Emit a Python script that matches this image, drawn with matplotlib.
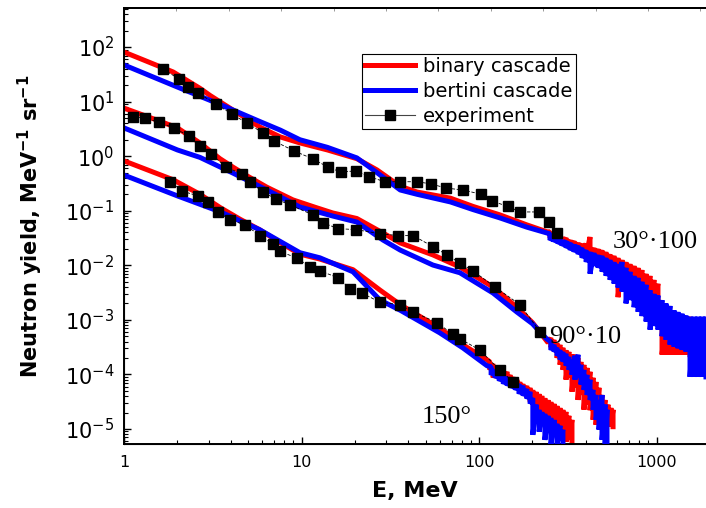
import matplotlib
matplotlib.use("Agg")
import matplotlib.pyplot as plt
from matplotlib.lines import Line2D
from matplotlib.ticker import FuncFormatter, FixedLocator, NullFormatter, LogLocator

plt.rcParams["font.family"] = ["DejaVu Sans"]
plt.rcParams["mathtext.fontset"] = "dejavusans"

# Smooth part of the spectra (E in MeV, yield in MeV^-1 sr^-1), then the noisy
# high-energy tails given as upper / lower envelope of the histogram scatter.

# ---- 30 deg (x100) ----
e_bin30 = [1, 1.89, 2.68, 3.05, 4.11, 5.84, 7.6, 9.8, 14, 20.5, 26.6, 36, 44.8, 69, 92.5, 131, 186, 242]
y_bin30 = [81, 35, 17.5, 13, 7.0, 3.4, 2.25, 1.75, 1.3, 0.9, 0.56, 0.28, 0.22, 0.17, 0.12, 0.084, 0.055, 0.041]
e_bin30_tail = [251, 265, 279, 293, 309, 326, 343, 361, 380, 401, 422, 444, 468, 493, 519, 547, 576, 607,
                639, 673, 709, 747, 787, 828, 873, 919, 968, 1019, 1074, 1131, 1191, 1255, 1321, 1392,
                1466, 1544]
hi_bin30_tail = [0.041, 0.038, 0.0345, 0.033, 0.032, 0.029, 0.028, 0.026, 0.025, 0.025, 0.033, 0.021,
                 0.020, 0.019, 0.0176, 0.016, 0.015, 0.0137, 0.0126, 0.0115, 0.0106, 0.0098, 0.009,
                 0.0082, 0.007, 0.0064, 0.0054, 0.0046, 0.00114, 0.00114, 0.00114, 0.00114, 0.00114,
                 0.00114, 0.00114, 0.00114]
lo_bin30_tail = [0.032, 0.029, 0.027, 0.025, 0.023, 0.021, 0.019, 0.0176, 0.016, 0.015, 0.0137, 0.0126,
                 0.0115, 0.0098, 0.009, 0.0076, 0.0064, 0.0026, 0.0054, 0.0046, 0.0035, 0.0030, 0.0033,
                 0.0025, 0.0023, 0.0019, 0.0020, 0.0014, 0.00023, 0.00023, 0.00023, 0.00023, 0.00023,
                 0.00023, 0.00023, 0.00023]

e_ber30 = [1, 2, 3.5, 5.84, 7.6, 9.8, 14, 20.5, 26.6, 36, 44.8, 69, 92.5, 131, 186, 242]
y_ber30 = [47, 18.5, 8.8, 4.3, 3.0, 2.0, 1.45, 0.93, 0.5, 0.24, 0.2, 0.145, 0.105, 0.074, 0.05, 0.039]
e_ber30_tail = [251, 265, 279, 293, 309, 326, 343, 361, 380, 401, 422, 444, 468, 493, 519, 547, 576, 607,
                639, 673, 709, 747, 787, 828, 873, 919, 968, 1019, 1074, 1131, 1191, 1255, 1321, 1392,
                1466, 1544, 1626, 1713, 1804, 1900]
hi_ber30_tail = [0.0376, 0.0345, 0.032, 0.029, 0.028, 0.026, 0.024, 0.023, 0.021, 0.019, 0.0176, 0.017,
                 0.0155, 0.015, 0.0137, 0.0126, 0.0115, 0.0106, 0.0115, 0.009, 0.0076, 0.0064, 0.0059,
                 0.005, 0.0044, 0.0035, 0.003, 0.0028, 0.0023, 0.002, 0.0018, 0.0015, 0.0014, 0.0013,
                 0.0012, 0.00114, 0.00114, 0.00114, 0.00114, 0.00114]
lo_ber30_tail = [0.029, 0.027, 0.025, 0.023, 0.021, 0.019, 0.0176, 0.016, 0.0137, 0.0115, 0.007, 0.0098,
                 0.009, 0.0076, 0.0064, 0.0054, 0.0046, 0.0039, 0.0033, 0.002, 0.0023, 0.0017, 0.0014,
                 0.00117, 0.00093, 0.00066, 0.00077, 0.00066, 0.0005, 0.00043, 0.00035, 0.00032,
                 0.0003, 0.00028, 0.00026, 0.00009, 0.00009, 0.00009, 0.00009, 0.00009]

e_exp30 = [1.66, 2.04, 2.29, 2.61, 3.30, 4.06, 4.93, 6.07, 7.0, 9.07, 11.6, 14.1, 16.7, 20.3, 24.0,
           29.5, 35.9, 44.8, 53.7, 65.2, 81.3, 103, 118, 146, 170, 218, 248, 275]
y_exp30 = [39.5, 26, 18.5, 14.4, 9.0, 5.9, 4.06, 2.66, 1.90, 1.25, 0.89, 0.63, 0.51, 0.54, 0.42,
           0.34, 0.34, 0.34, 0.31, 0.26, 0.24, 0.20, 0.15, 0.12, 0.095, 0.095, 0.062, 0.039]

# ---- 90 deg (x10) ----
e_bin90 = [1, 1.5, 2.0, 2.68, 3.47, 4.11, 5.0, 6.38, 8.95, 12, 15, 20.5, 28.8, 36, 55, 78, 120, 163, 200, 245]
y_bin90 = [7.6, 4.7, 3.3, 1.74, 0.9, 0.63, 0.425, 0.27, 0.158, 0.115, 0.091, 0.072, 0.039, 0.0257, 0.0155,
           0.0093, 0.004, 0.0017, 0.00089, 0.00038]
e_bin90_tail = [254, 265, 275, 286, 297, 309, 321, 334, 347, 361, 375, 390, 406, 422, 439, 456, 474, 493,
                513, 533, 554, 569]
hi_bin90_tail = [0.00047, 0.00043, 0.00038, 0.00035, 0.00031, 0.00028, 0.00026, 0.00023, 0.00023, 0.0002,
                 0.00017, 0.00015, 0.000132, 0.000112, 8.7e-5, 7.3e-5, 5.7e-5, 4.2e-5, 3.4e-5, 2.8e-5,
                 2.44e-5, 2.25e-5]
lo_bin90_tail = [0.00031, 0.00026, 0.0002, 0.00015, 0.000121, 8.0e-5, 8.7e-5, 4.8e-5, 5.7e-5, 3.4e-5,
                 4.2e-5, 2.25e-5, 2.8e-5, 2.2e-5, 1.47e-5, 1.19e-5, 1.6e-5, 1.35e-5, 1.1e-5, 1.1e-5,
                 1.19e-5, 1.1e-5]

e_ber90 = [1, 2, 2.68, 4.11, 6.38, 9.8, 15, 20.5, 28.8, 36, 55, 78, 120, 163, 200, 240]
y_ber90 = [3.3, 1.3, 0.95, 0.49, 0.24, 0.117, 0.08, 0.062, 0.029, 0.019, 0.0101, 0.0073, 0.0031, 0.0014,
           0.00085, 0.00045]
e_ber90_tail = [254, 265, 275, 286, 297, 309, 321, 334, 347, 361, 375, 390, 406, 422, 439, 456, 474, 493,
                513, 526]
hi_ber90_tail = [0.000395, 0.00035, 0.00031, 0.00028, 0.00026, 0.00024, 0.00021, 0.000185, 0.00022,
                 0.00023, 0.00015, 0.000121, 9.8e-5, 8.0e-5, 5.2e-5, 4.2e-5, 3.4e-5, 4.2e-5, 2.8e-5, 2.25e-5]
lo_ber90_tail = [0.00028, 0.00026, 0.00022, 0.000185, 0.00017, 0.000144, 0.000121, 9.8e-5, 8.0e-5, 8.7e-5,
                 6.5e-5, 5.2e-5, 4.2e-5, 3.4e-5, 2.25e-5, 1.47e-5, 9.7e-6, 6.3e-6, 4.7e-6, 4.3e-6]

e_exp90 = [1.12, 1.31, 1.57, 1.91, 2.32, 2.68, 3.09, 3.76, 4.62, 5.13, 6.07, 7.2, 8.6, 11.6, 13.2, 16.1,
           20.3, 27.7, 35, 42.5, 55, 66, 78, 92.5, 123, 170, 221]
y_exp90 = [5.2, 5.0, 4.2, 3.3, 2.34, 1.54, 1.10, 0.63, 0.47, 0.34, 0.22, 0.164, 0.128, 0.084, 0.060, 0.047,
           0.045, 0.038, 0.035, 0.035, 0.022, 0.0155, 0.011, 0.0079, 0.0040, 0.0019, 0.0006]

# ---- 150 deg ----
e_bin150 = [1, 1.89, 2.68, 3.47, 4.5, 5.8, 7.6, 9.8, 12.7, 19.5, 27.7, 36, 60, 81, 111]
y_bin150 = [0.82, 0.37, 0.2, 0.115, 0.07, 0.045, 0.026, 0.016, 0.013, 0.0083, 0.0035, 0.0019, 0.0007,
            0.00035, 1.85e-4]
e_bin150_tail = [115, 120, 126, 131, 137, 144, 150, 156, 164, 170, 177, 186, 194, 201, 210, 218, 226, 235,
                 245, 254, 265, 275, 286, 297, 309, 321, 334]
hi_bin150_tail = [1.70e-4, 1.56e-4, 1.44e-4, 1.32e-4, 1.21e-4, 1.12e-4, 9.8e-5, 9.0e-5, 8.0e-5, 7.3e-5,
                  6.7e-5, 6.2e-5, 5.7e-5, 5.2e-5, 4.8e-5, 4.4e-5, 4.06e-5, 3.7e-5, 3.4e-5, 3.15e-5,
                  2.9e-5, 2.66e-5, 2.44e-5, 2.25e-5, 2.06e-5, 1.75e-5, 1.47e-5]
lo_bin150_tail = [1.21e-4, 8.7e-5, 1.03e-4, 9.4e-5, 8.0e-5, 7.3e-5, 6.2e-5, 5.7e-5, 5.2e-5, 4.8e-5,
                  4.2e-5, 3.7e-5, 3.15e-5, 2.8e-5, 2.25e-5, 2.06e-5, 1.6e-5, 1.47e-5, 1.15e-5, 1.25e-5,
                  9.7e-6, 1.05e-5, 8.2e-6, 8.9e-6, 5.8e-6, 6.3e-6, 4.9e-6]

e_ber150 = [1, 2, 3.47, 5.8, 9.8, 12.7, 19.5, 27.7, 36, 60, 81, 111]
y_ber150 = [0.45, 0.187, 0.096, 0.045, 0.017, 0.0137, 0.0076, 0.0023, 0.0015, 5.8e-4, 3.07e-4, 1.44e-4]
e_ber150_tail = [117, 123, 130, 137, 144, 151, 160, 168, 177, 186, 194, 201, 210, 218, 226, 235, 245, 254,
                 265, 275, 286, 297]
hi_ber150_tail = [1.38e-4, 1.21e-4, 1.07e-4, 9.8e-5, 9.0e-5, 8.3e-5, 7.6e-5, 6.7e-5, 6.2e-5, 5.4e-5,
                  4.8e-5, 3.7e-5, 2.8e-5, 2.25e-5, 2.06e-5, 1.9e-5, 1.75e-5, 1.6e-5, 1.47e-5, 1.25e-5,
                  1.15e-5, 9.7e-6]
lo_ber150_tail = [9.8e-5, 8.7e-5, 7.6e-5, 6.7e-5, 6.2e-5, 5.7e-5, 5.2e-5, 4.4e-5, 4.06e-5, 3.57e-5,
                  2.9e-5, 7.8e-6, 1.47e-5, 8.9e-6, 1.19e-5, 6.3e-6, 9.7e-6, 4.9e-6, 8.2e-6, 4.9e-6,
                  6.3e-6, 4.2e-6]

e_exp150 = [1.82, 2.12, 2.61, 2.97, 3.39, 3.96, 4.81, 5.84, 6.9, 7.56, 9.4, 11.2, 12.7, 16.1, 18.8, 21.9,
            27.7, 35.9, 42.5, 58, 71.4, 78, 101, 131, 156]
y_exp150 = [0.34, 0.23, 0.187, 0.145, 0.095, 0.068, 0.055, 0.035, 0.025, 0.018, 0.0136, 0.0093, 0.0079,
            0.0059, 0.0037, 0.0031, 0.0021, 0.0019, 0.0014, 0.00089, 0.00054, 0.00045, 0.00028, 0.00012,
            7.3e-5]

labels = ["30°·100", "90°·10", "150°"]
label_pos = [(569, 0.021), (248, 3.8e-4), (47.7, 1.3e-5)]

x_ticks = [1, 10, 100, 1000]
y_ticks = [1e-5, 1e-4, 1e-3, 1e-2, 1e-1, 1, 10, 100]

RED = "#ff0000"
BLUE = "#0000ff"
LW = 3.6


def with_tail(e, y, e_tail, hi, lo):
    # the scatter of the histogram tail is drawn as a zig-zag between its envelopes
    xs = list(e)
    ys = list(y)
    for et, h, l in zip(e_tail, hi, lo):
        xs += [et, et]
        ys += [h, l]
    return xs, ys


fig = plt.figure(figsize=(7.06, 5.08), dpi=100)
ax = fig.add_axes([124 / 706, 64 / 508, 582 / 706, 436 / 508])

binary = [(e_bin30, y_bin30, e_bin30_tail, hi_bin30_tail, lo_bin30_tail),
          (e_bin90, y_bin90, e_bin90_tail, hi_bin90_tail, lo_bin90_tail),
          (e_bin150, y_bin150, e_bin150_tail, hi_bin150_tail, lo_bin150_tail)]
bertini = [(e_ber30, y_ber30, e_ber30_tail, hi_ber30_tail, lo_ber30_tail),
           (e_ber90, y_ber90, e_ber90_tail, hi_ber90_tail, lo_ber90_tail),
           (e_ber150, y_ber150, e_ber150_tail, hi_ber150_tail, lo_ber150_tail)]

for args in binary:
    xs, ys = with_tail(*args)
    ax.plot(xs, ys, color=RED, lw=LW, solid_joinstyle="bevel", zorder=2)
for args in bertini:
    xs, ys = with_tail(*args)
    ax.plot(xs, ys, color=BLUE, lw=LW, solid_joinstyle="bevel", zorder=3)
for e, y in [(e_exp30, y_exp30), (e_exp90, y_exp90), (e_exp150, y_exp150)]:
    ax.plot(e, y, color="black", lw=0.6, ls=(0, (4, 2)), marker="s", ms=7.5,
            mfc="black", mec="black", zorder=4)

for txt, (x, y) in zip(labels, label_pos):
    ax.text(x, y, txt, fontsize=19, family="Liberation Serif", ha="left", va="baseline", zorder=5)

ax.set_xscale("log")
ax.set_yscale("log")
ax.set_xlim(1, 1900)
ax.set_ylim(5.3e-6, 520)
ax.xaxis.set_major_locator(FixedLocator(x_ticks))
ax.yaxis.set_major_locator(FixedLocator(y_ticks))
ax.xaxis.set_minor_locator(LogLocator(base=10, subs=range(2, 10)))
ax.yaxis.set_minor_locator(LogLocator(base=10, subs=range(2, 10)))
ax.xaxis.set_major_formatter(FuncFormatter(lambda v, p: "%g" % v))
ax.xaxis.set_minor_formatter(NullFormatter())
ax.yaxis.set_minor_formatter(NullFormatter())

ax.tick_params(which="both", direction="in", top=False, right=False)
ax.tick_params(which="major", length=5, width=1.0)
ax.tick_params(which="minor", length=3, width=0.8)
ax.tick_params(axis="y", labelsize=15, pad=7)
ax.tick_params(axis="x", labelsize=11.5, pad=8)
for side in ["left", "bottom", "top"]:
    ax.spines[side].set_linewidth(1.4)
ax.spines["right"].set_visible(False)

ax.set_xlabel("E, MeV", fontsize=16, fontweight="bold")
ax.xaxis.set_label_coords(0.5, -0.085)
ax.set_ylabel("Neutron yield, MeV$^{\\mathbf{-1}}$ sr$^{\\mathbf{-1}}$", fontsize=15, fontweight="bold")
ax.yaxis.set_label_coords(-0.135, 0.5)

# faint evenly spaced ticks along the top frame
top = ax.twiny()
top.set_xlim(0, 582 / 52.4)
top.xaxis.set_major_locator(FixedLocator(range(1, 12)))
top.xaxis.set_major_formatter(NullFormatter())
top.tick_params(axis="x", direction="in", length=2, width=0.6, colors="#888888", labeltop=False)
top.spines["right"].set_visible(False)
top.spines["top"].set_linewidth(1.4)

handles = [Line2D([], [], color=RED, lw=LW),
           Line2D([], [], color=BLUE, lw=LW),
           Line2D([], [], color="#444444", lw=0.8, marker="s", ms=7.5, mfc="black", mec="black")]
leg = ax.legend(handles, ["binary cascade", "bertini cascade", "experiment"],
                loc="upper left", bbox_to_anchor=(362 / 706, 1 - 54 / 508), bbox_transform=fig.transFigure,
                fontsize=14, frameon=True, fancybox=False, framealpha=1, edgecolor="black",
                handlelength=2.6, handletextpad=0.4, borderpad=0.15, labelspacing=0.3, borderaxespad=0)
leg.get_frame().set_linewidth(0.8)

fig.savefig("out.png", dpi=100)
